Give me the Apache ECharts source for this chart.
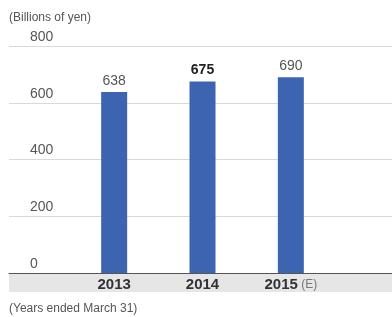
<!DOCTYPE html>
<html lang="en">
<head>
    <meta charset="UTF-8">
    <title>Chart</title>
    <script src="https://cdn.jsdelivr.net/npm/echarts@6/dist/echarts.min.js"></script>
    <style>
        html, body { margin: 0; padding: 0; background: #fff; }
        #chart { width: 392px; height: 317px; }
    </style>
</head>
<body>
    <div id="chart"></div>
    <script>
        // data
        var years = ['2013', '2014', '2015'];
        var values = [638, 675, 690];
        var yTicks = [0, 200, 400, 600, 800];

        var chart = echarts.init(document.getElementById('chart'));
        var font = 'Arial, "Liberation Sans", Helvetica, sans-serif';

        var option = {
            animation: false,
            textStyle: { fontFamily: font },
            grid: [
                // background grid: full-width lines + y labels
                { left: 9, right: 0, top: 46, bottom: 44 },
                // bars
                { left: 70, right: 57, top: 46, bottom: 44 }
            ],
            graphic: [{
                type: 'rect',
                shape: { x: 9, y: 274, width: 383, height: 18 },
                style: { fill: '#e6e6e7' },
                z: 0
            }, {
                type: 'text',
                left: 9, top: 12,
                style: { text: '(Billions of yen)', fontSize: 12, fill: '#555', fontFamily: font }
            }, {
                type: 'text',
                left: 9, top: 303,
                style: { text: '(Years ended March 31)', fontSize: 12, fill: '#555', fontFamily: font }
            }],
            xAxis: [{
                gridIndex: 0,
                type: 'category',
                data: [''],
                axisLine: { show: true, lineStyle: { color: '#555', width: 1 } },
                axisTick: { show: false },
                axisLabel: { show: false },
                z: 5
            }, {
                gridIndex: 1,
                type: 'category',
                data: years,
                axisLine: { show: false },
                axisTick: { show: false },
                axisLabel: {
                    interval: 0,
                    margin: 4,
                    formatter: function (v) {
                        return v === '2015' ? '{b|' + v + '} {e|(E)}' : '{b|' + v + '}';
                    },
                    rich: {
                        b: { fontSize: 15, fontWeight: 'bold', color: '#333', fontFamily: font },
                        e: { fontSize: 12, color: '#777', fontFamily: font }
                    }
                },
                z: 6
            }],
            yAxis: [{
                gridIndex: 0,
                type: 'value',
                min: yTicks[0],
                max: yTicks[yTicks.length - 1],
                interval: 200,
                axisLine: { show: false },
                axisTick: { show: false },
                splitLine: { lineStyle: { color: '#d9d9d9', width: 1 } },
                axisLabel: {
                    align: 'left',
                    verticalAlign: 'bottom',
                    margin: -21,
                    padding: [0, 0, 2, 0],
                    fontSize: 14,
                    color: '#555'
                }
            }, {
                gridIndex: 1,
                type: 'value',
                min: yTicks[0],
                max: yTicks[yTicks.length - 1],
                interval: 200,
                show: false
            }],
            series: [{
                type: 'bar',
                xAxisIndex: 1,
                yAxisIndex: 1,
                barWidth: 26,
                itemStyle: { color: '#3d64b0' },
                label: {
                    show: true,
                    position: 'top',
                    distance: 4,
                    fontSize: 14,
                    color: '#555',
                    fontFamily: font
                },
                data: values.map(function (v, i) {
                    var d = { value: v };
                    if (i === 1) d.label = { fontWeight: 'bold', color: '#222' };
                    return d;
                })
            }]
        };
        chart.setOption(option);
    </script>
</body>
</html>
